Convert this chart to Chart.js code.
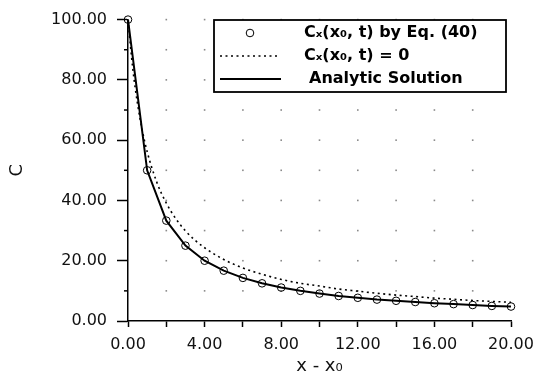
<!DOCTYPE html>
<html>
<head>
<meta charset="utf-8">
<script src="https://cdn.jsdelivr.net/npm/chart.js@4.4.1/dist/chart.umd.min.js"></script>
<style>
  html, body { margin: 0; padding: 0; background: #fff; }
  #wrap { width: 549px; height: 377px; }
</style>
</head>
<body>
<div id="wrap"><canvas id="c" width="549" height="377"></canvas></div>
<script>
// ---- data ----
const xPoints = [0, 1, 2, 3, 4, 5, 6, 7, 8, 9, 10, 11, 12, 13, 14, 15, 16, 17, 18, 19, 20];
const eq40Values = [100, 50.0, 33.3, 25.0, 20.0, 16.7, 14.3, 12.5, 11.1, 10.0, 9.1, 8.3, 7.7, 7.1, 6.7, 6.3, 5.9, 5.6, 5.3, 5.0, 4.8];
const analyticValues = [100, 50.0, 33.3, 25.0, 20.0, 16.7, 14.3, 12.5, 11.1, 10.0, 9.1, 8.3, 7.7, 7.1, 6.7, 6.3, 5.9, 5.6, 5.3, 5.0, 4.8];
const zeroGradX = [0, 0.25, 0.5, 0.75, 1, 1.5, 2, 2.5, 3, 3.5, 4, 5, 6, 7, 8, 9, 10, 11, 12, 13, 14, 15, 16, 17, 18, 19, 20];
const zeroGradValues = [100, 83.7, 72.0, 63.1, 56.2, 46.1, 39.1, 33.9, 29.9, 26.8, 24.3, 20.4, 17.6, 15.5, 13.8, 12.5, 11.6, 10.6, 9.9, 9.2, 8.6, 8.1, 7.6, 7.2, 6.8, 6.5, 6.2];
const seriesLabels = ['Cₓ(x₀, t) by Eq. (40)', 'Cₓ(x₀, t) = 0', 'Analytic Solution'];
const xTitle = 'x - x₀';
const yTitle = 'C';
const xTickValues = [0, 2, 4, 6, 8, 10, 12, 14, 16, 18, 20];
const yMinorTicks = [10, 30, 50, 70, 90];

const toXY = (xs, ys) => xs.map((x, i) => ({ x: x, y: ys[i] }));

const FONT = "'DejaVu Sans', sans-serif";

const decorPlugin = {
  id: 'decor',
  beforeDatasetsDraw(chart) {
    const { ctx, scales: { x, y } } = chart;
    ctx.save();
    // sparse dotted grid (dots at intersections)
    ctx.fillStyle = '#8a8a8a';
    for (let gx = 2; gx <= 18; gx += 2) {
      for (let gy = 10; gy <= 100; gy += 10) {
        const px = x.getPixelForValue(gx), py = y.getPixelForValue(gy);
        ctx.fillRect(px - 0.8, py - 0.8, 1.6, 1.6);
      }
    }
    // minor y ticks
    ctx.strokeStyle = '#000';
    ctx.lineWidth = 1.5;
    yMinorTicks.forEach(v => {
      const py = y.getPixelForValue(v);
      ctx.beginPath();
      ctx.moveTo(chart.chartArea.left - 4, py);
      ctx.lineTo(chart.chartArea.left, py);
      ctx.stroke();
    });
    ctx.restore();
  },
  afterDraw(chart) {
    const { ctx } = chart;
    const ds = chart.data.datasets;
    ctx.save();
    // legend box
    const bx = 214, by = 20, bw = 292, bh = 72;
    ctx.fillStyle = '#fff';
    ctx.fillRect(bx, by, bw, bh);
    ctx.strokeStyle = '#000';
    ctx.lineWidth = 1.8;
    ctx.strokeRect(bx, by, bw, bh);
    const rows = [33, 56, 79];
    const textX = [304, 304, 309];
    // symbols
    ctx.lineWidth = 1;
    ctx.beginPath();
    ctx.arc(250, rows[0], 3.8, 0, Math.PI * 2);
    ctx.stroke();
    ctx.lineWidth = 1.6;
    ctx.setLineDash(ds[1].borderDash);
    ctx.beginPath();
    ctx.moveTo(220, rows[1]); ctx.lineTo(280, rows[1]);
    ctx.stroke();
    ctx.setLineDash([]);
    ctx.lineWidth = 2;
    ctx.beginPath();
    ctx.moveTo(220, rows[2]); ctx.lineTo(281, rows[2]);
    ctx.stroke();
    // labels
    ctx.fillStyle = '#000';
    ctx.font = "bold 16px " + FONT;
    ctx.textBaseline = 'middle';
    ctx.textAlign = 'left';
    ds.forEach((d, i) => ctx.fillText(d.label, textX[i], rows[i]));
    ctx.restore();
  }
};

new Chart(document.getElementById('c'), {
  type: 'scatter',
  data: {
    datasets: [
      {
        label: seriesLabels[0],
        data: toXY(xPoints, eq40Values),
        showLine: false,
        pointStyle: 'circle',
        pointRadius: 3.8,
        pointBorderWidth: 1,
        pointBorderColor: '#000',
        pointBackgroundColor: 'rgba(0,0,0,0)',
        clip: false
      },
      {
        label: seriesLabels[1],
        data: toXY(zeroGradX, zeroGradValues),
        showLine: true,
        borderColor: '#000',
        borderWidth: 1.6,
        borderDash: [2, 3.5],
        pointRadius: 0,
        cubicInterpolationMode: 'monotone',
        fill: false
      },
      {
        label: seriesLabels[2],
        data: toXY(xPoints, analyticValues),
        showLine: true,
        borderColor: '#000',
        borderWidth: 2,
        pointRadius: 0,
        tension: 0,
        fill: false
      }
    ]
  },
  options: {
    responsive: false,
    animation: false,
    devicePixelRatio: 1,
    layout: { padding: { left: 0, right: 38, top: 10, bottom: 0 } },
    plugins: { legend: { display: false }, tooltip: { enabled: false } },
    scales: {
      x: {
        type: 'linear',
        min: 0, max: 20,
        afterFit: s => { s.height = 56; },
        afterBuildTicks: s => { s.ticks = xTickValues.map(v => ({ value: v })); },
        ticks: {
          color: '#111',
          font: { family: FONT, size: 16 },
          padding: 8,
          maxRotation: 0,
          autoSkip: false,
          callback: v => (v % 4 === 0 ? Number(v).toFixed(2) : '')
        },
        grid: { drawOnChartArea: false, tickLength: 6, tickColor: '#000', tickWidth: 1.5 },
        border: { color: '#000', width: 1.5 },
        title: {
          display: true, text: xTitle, color: '#111',
          font: { family: FONT, size: 18 },
          padding: { top: 0, bottom: 0 }
        }
      },
      y: {
        type: 'linear',
        min: 0, max: 100,
        afterFit: s => { s.width = 128; },
        ticks: {
          stepSize: 20,
          color: '#111',
          font: { family: FONT, size: 16 },
          padding: 10,
          callback: v => Number(v).toFixed(2)
        },
        grid: { drawOnChartArea: false, tickLength: 11, tickColor: '#000', tickWidth: 1.5 },
        border: { color: '#000', width: 1.5 },
        title: {
          display: true, text: yTitle, color: '#111',
          font: { family: FONT, size: 18 },
          padding: { top: 7, bottom: 0 }
        }
      }
    }
  },
  plugins: [decorPlugin]
});
</script>
</body>
</html>
